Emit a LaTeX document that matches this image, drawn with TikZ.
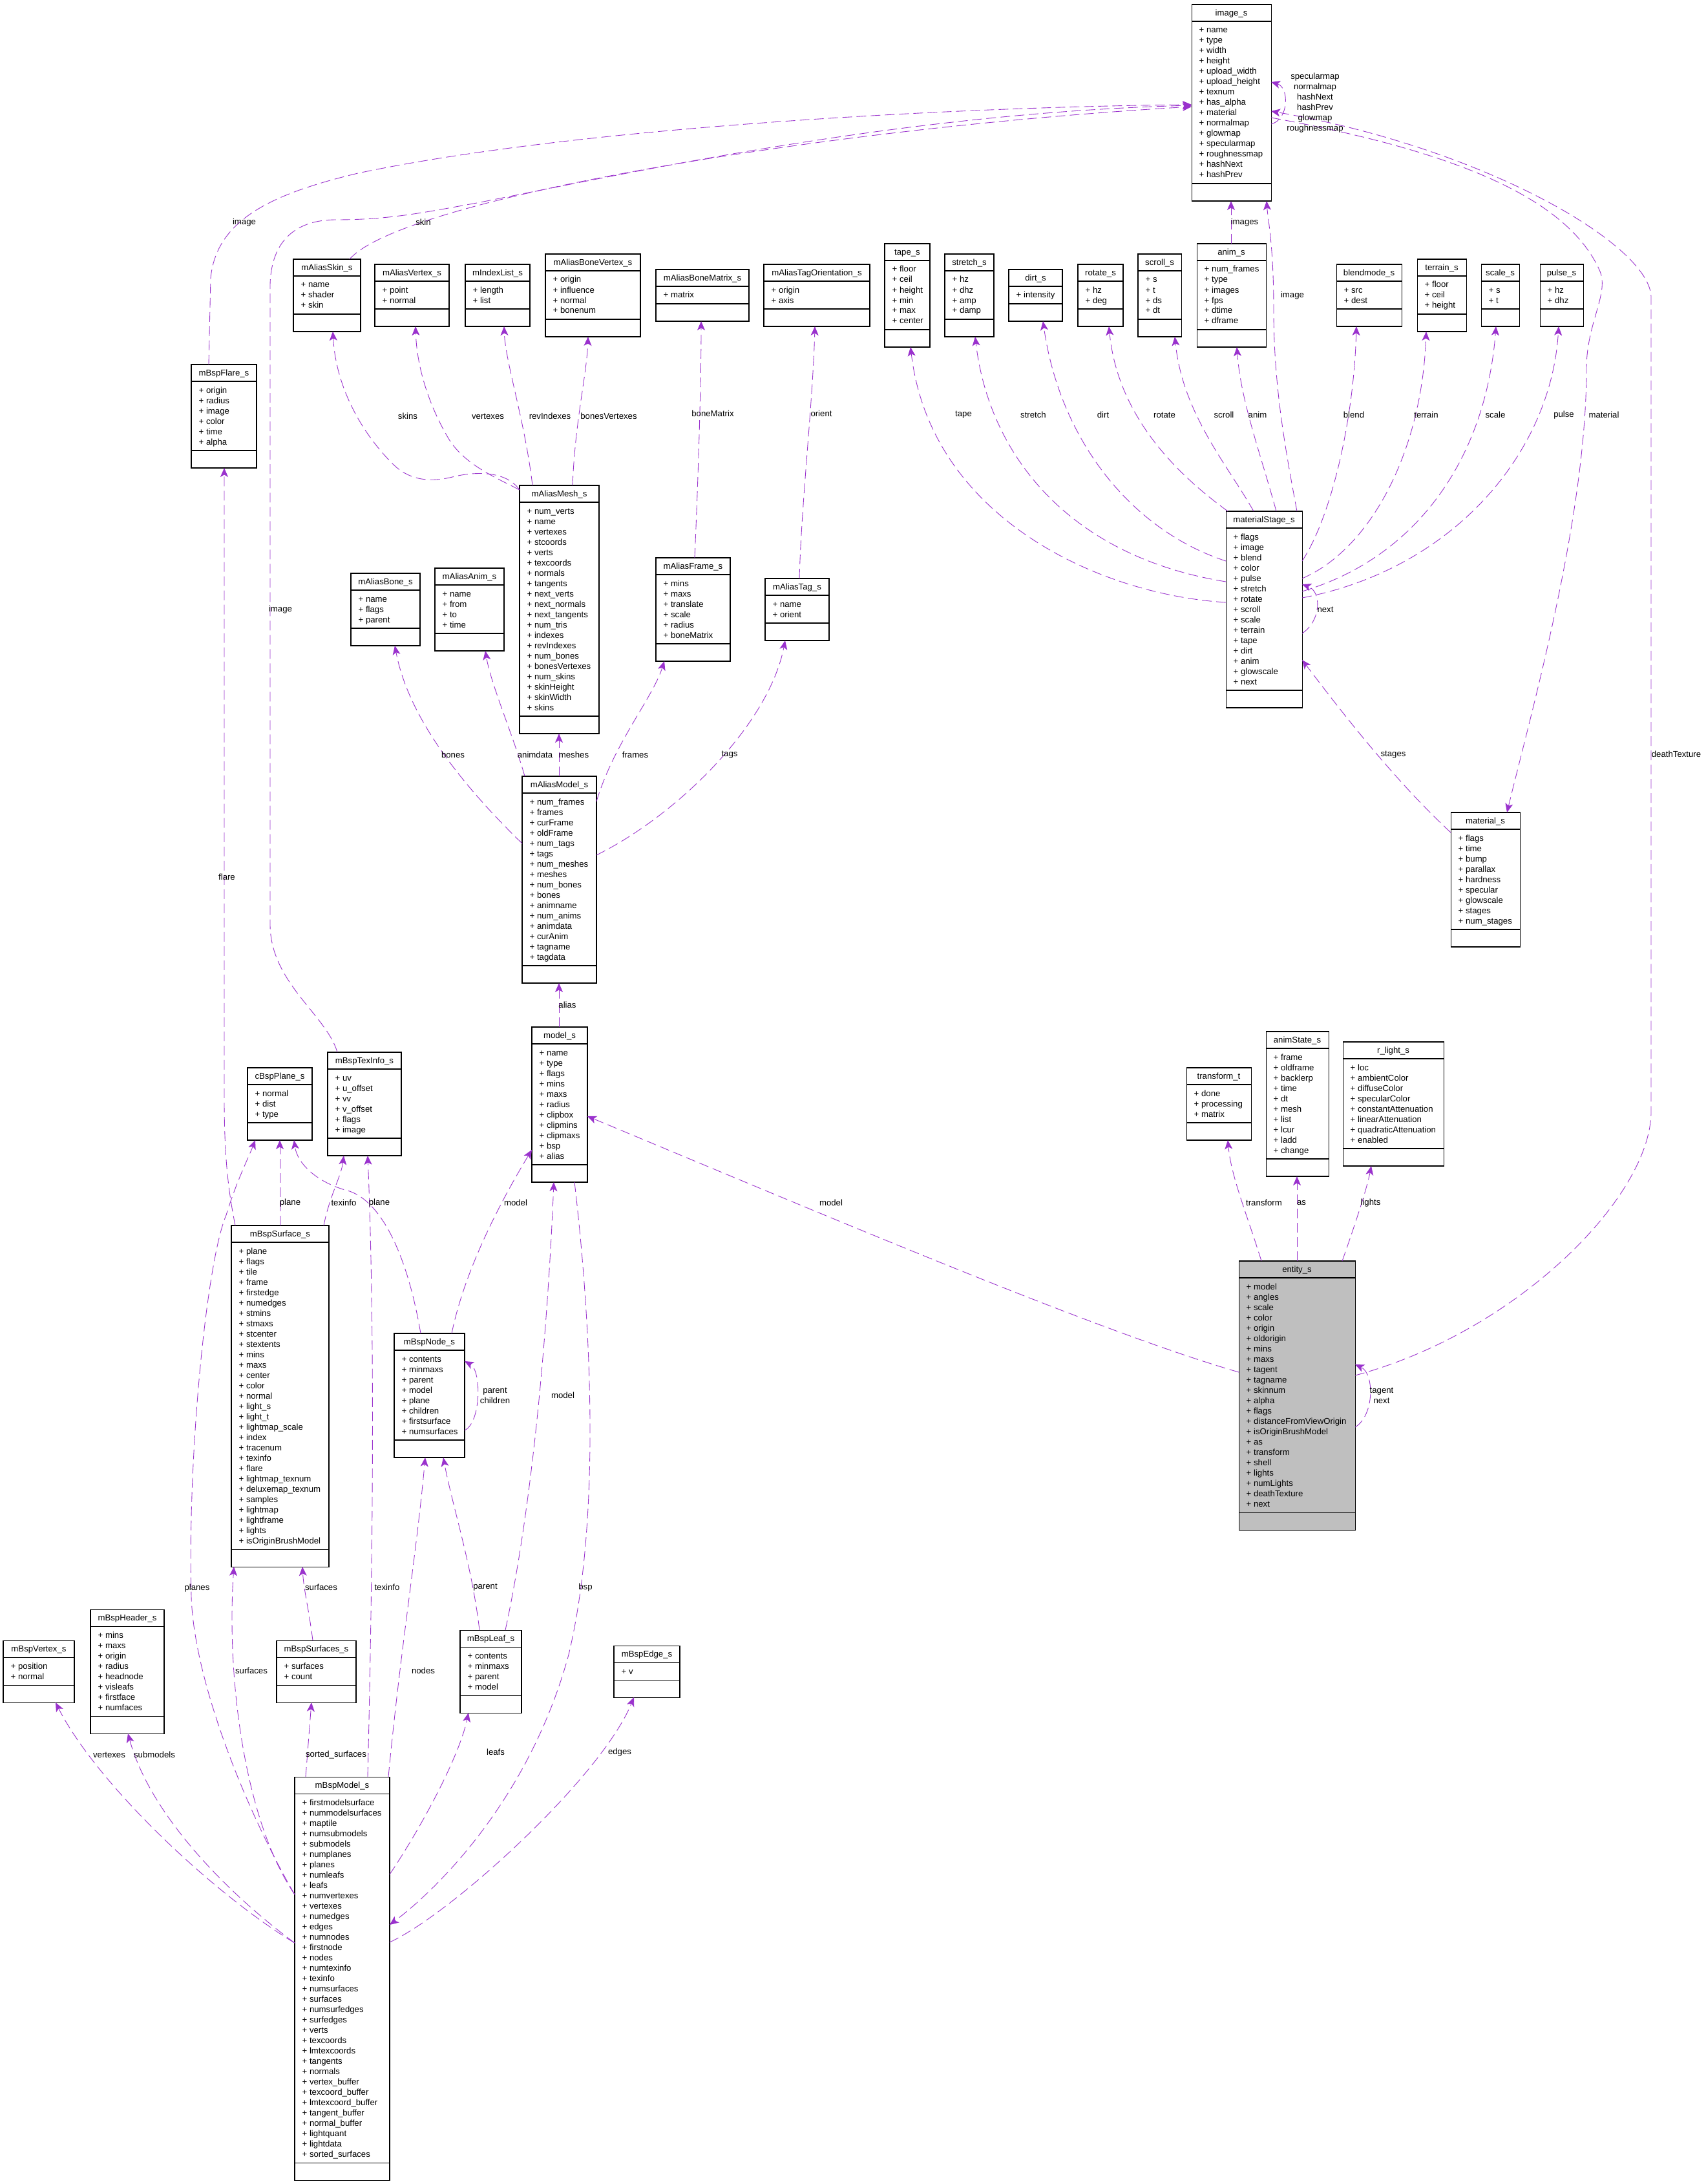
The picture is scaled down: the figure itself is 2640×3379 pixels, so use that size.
\documentclass[tikz,border=0pt]{standalone}
\usepackage{fontspec}
\setmainfont{Liberation Sans}
\usetikzlibrary{arrows.meta,calc}
\definecolor{edgecol}{RGB}{154,50,205}
\definecolor{entfill}{RGB}{191,191,191}
\newcommand\umlfont{\fontsize{3.75pt}{4.55pt}\selectfont}
\tikzset{
  clsbox/.style={draw=black, line width=0.3pt, fill=white, inner sep=0pt, outer sep=0pt},
  clsline/.style={draw=black, line width=0.3pt},
  clstitle/.style={font=\umlfont, anchor=base, inner sep=0pt},
  clstext/.style={font=\umlfont, anchor=base west, inner sep=0pt},
  lbl/.style={font=\umlfont, inner sep=0pt, align=center},
  rel/.style={draw=edgecol, line width=0.25pt, dash pattern=on 0.15cm off 0.07cm, -{Stealth[length=0.14cm,width=0.12cm,inset=0.035cm]}},
}
\newcommand\cls[7][]{%
  \xdef\clsn{0}%
  \foreach \e [count=\i] in {#7} {\xdef\clsn{\i}}%
  \pgfmathsetmacro\clsh{64+16*\clsn}%
  \node[clsbox,#1,minimum width=#5*0.01cm,minimum height=\clsh*0.01cm,anchor=north west] (#2) at (#3,#4) {};
  \draw[clsline] (#3,#4+26) -- (#3+#5,#4+26);
  \draw[clsline] (#3,#4+37+16*\clsn) -- (#3+#5,#4+37+16*\clsn);
  \node[clstitle] (#2-t) at (#3+#5/2,#4+17.5) {#6};
  \foreach \e [count=\i from 0] in {#7} {\node[clstext] (#2-\i) at (#3+11,#4+44+16*\i) {+ \e};}%
}
\begin{document}
\begin{tikzpicture}[x=0.01cm,y=-0.01cm]
\fill[white] (0,0) rectangle (2640,3379);
\useasboundingbox (0,0) rectangle (2640,3379);

% ---------------- classes ----------------
\cls{imageS}{1844}{7}{123}{image\_s}{name,type,width,height,upload\_width,upload\_height,texnum,has\_alpha,material,normalmap,glowmap,specularmap,roughnessmap,hashNext,hashPrev}
\cls{mAliasSkinS}{454}{401}{104}{mAliasSkin\_s}{name,shader,skin}
\cls{mAliasVertexS}{580}{409}{115}{mAliasVertex\_s}{point,normal}
\cls{mIndexListS}{720}{409}{100}{mIndexList\_s}{length,list}
\cls{mAliasBoneVertexS}{844}{393}{147}{mAliasBoneVertex\_s}{origin,influence,normal,bonenum}
\cls{mAliasBoneMatrixS}{1015}{417}{144}{mAliasBoneMatrix\_s}{matrix}
\cls{mAliasTagOrientationS}{1182}{409}{164}{mAliasTagOrientation\_s}{origin,axis}
\cls{tapeS}{1369}{377}{70}{tape\_s}{floor,ceil,height,min,max,center}
\cls{stretchS}{1462}{393}{76}{stretch\_s}{hz,dhz,amp,damp}
\cls{dirtS}{1561}{417}{83}{dirt\_s}{intensity}
\cls{rotateS}{1668}{409}{70}{rotate\_s}{hz,deg}
\cls{scrollS}{1761}{393}{67}{scroll\_s}{s,t,ds,dt}
\cls{animS}{1852}{377}{107}{anim\_s}{num\_frames,type,images,fps,dtime,dframe}
\cls{blendmodeS}{2068}{409}{101}{blendmode\_s}{src,dest}
\cls{terrainS}{2193}{401}{76}{terrain\_s}{floor,ceil,height}
\cls{scaleS}{2292}{409}{59}{scale\_s}{s,t}
\cls{pulseS}{2383}{409}{67}{pulse\_s}{hz,dhz}
\cls{mBspFlareS}{296}{564}{101}{mBspFlare\_s}{origin,radius,image,color,time,alpha}
\cls{mAliasMeshS}{804}{751}{123}{mAliasMesh\_s}{num\_verts,name,vertexes,stcoords,verts,texcoords,normals,tangents,next\_verts,next\_normals,next\_tangents,num\_tris,indexes,revIndexes,num\_bones,bonesVertexes,num\_skins,skinHeight,skinWidth,skins}
\cls{materialStageS}{1897}{791}{118}{materialStage\_s}{flags,image,blend,color,pulse,stretch,rotate,scroll,scale,terrain,tape,dirt,anim,glowscale,next}
\cls{mAliasBoneS}{543}{887}{107}{mAliasBone\_s}{name,flags,parent}
\cls{mAliasAnimS}{673}{879}{107}{mAliasAnim\_s}{name,from,to,time}
\cls{mAliasFrameS}{1015}{863}{115}{mAliasFrame\_s}{mins,maxs,translate,scale,radius,boneMatrix}
\cls{mAliasTagS}{1184}{895}{99}{mAliasTag\_s}{name,orient}
\cls{mAliasModelS}{808}{1201}{115}{mAliasModel\_s}{num\_frames,frames,curFrame,oldFrame,num\_tags,tags,num\_meshes,meshes,num\_bones,bones,animname,num\_anims,animdata,curAnim,tagname,tagdata}
\cls{materialS}{2245}{1257}{107}{material\_s}{flags,time,bump,parallax,hardness,specular,glowscale,stages,num\_stages}
\cls{modelS}{823}{1589}{86}{model\_s}{name,type,flags,mins,maxs,radius,clipbox,clipmins,clipmaxs,bsp,alias}
\cls{cBspPlaneS}{383}{1652}{100}{cBspPlane\_s}{normal,dist,type}
\cls{mBspTexInfoS}{507}{1628}{114}{mBspTexInfo\_s}{uv,u\_offset,vv,v\_offset,flags,image}
\cls{transformT}{1836}{1652}{100}{transform\_t}{done,processing,matrix}
\cls{animStateS}{1959}{1596}{97}{animState\_s}{frame,oldframe,backlerp,time,dt,mesh,list,lcur,ladd,change}
\cls{rLightS}{2078}{1612}{156}{r\_light\_s}{loc,ambientColor,diffuseColor,specularColor,constantAttenuation,linearAttenuation,quadraticAttenuation,enabled}
\cls{mBspSurfaceS}{358}{1896}{151}{mBspSurface\_s}{plane,flags,tile,frame,firstedge,numedges,stmins,stmaxs,stcenter,stextents,mins,maxs,center,color,normal,light\_s,light\_t,lightmap\_scale,index,tracenum,texinfo,flare,lightmap\_texnum,deluxemap\_texnum,samples,lightmap,lightframe,lights,isOriginBrushModel}
\cls{mBspNodeS}{610}{2063}{109}{mBspNode\_s}{contents,minmaxs,parent,model,plane,children,firstsurface,numsurfaces}
\cls[fill=entfill]{entityS}{1917}{1951}{180}{entity\_s}{model,angles,scale,color,origin,oldorigin,mins,maxs,tagent,tagname,skinnum,alpha,flags,distanceFromViewOrigin,isOriginBrushModel,as,transform,shell,lights,numLights,deathTexture,next}
\cls{mBspVertexS}{5}{2538}{110}{mBspVertex\_s}{position,normal}
\cls{mBspHeaderS}{140}{2490}{114}{mBspHeader\_s}{mins,maxs,origin,radius,headnode,visleafs,firstface,numfaces}
\cls{mBspSurfacesS}{428}{2538}{123}{mBspSurfaces\_s}{surfaces,count}
\cls{mBspLeafS}{712}{2522}{95}{mBspLeaf\_s}{contents,minmaxs,parent,model}
\cls{mBspEdgeS}{950}{2546}{102}{mBspEdge\_s}{v}
\cls{mBspModelS}{456}{2749}{147}{mBspModel\_s}{firstmodelsurface,nummodelsurfaces,maptile,numsubmodels,submodels,numplanes,planes,numleafs,leafs,numvertexes,vertexes,numedges,edges,numnodes,firstnode,nodes,numtexinfo,texinfo,numsurfaces,surfaces,numsurfedges,surfedges,verts,texcoords,lmtexcoords,tangents,normals,vertex\_buffer,texcoord\_buffer,lmtexcoord\_buffer,tangent\_buffer,normal\_buffer,lightquant,lightdata,sorted\_surfaces}

% ---------------- connectors to image_s ----------------
\draw[rel] ($(mBspFlareS.north west)+(27,0)$) -- (326,430) .. controls (335,340) and (420,300) .. (554,268) .. controls (900,195) and (1500,165) .. ($(imageS.north west)+(0,155)$);
\draw[rel] ($(mAliasSkinS.north west)+(87,0)$) .. controls (620,310) and (1250,200) .. ($(imageS.north west)+(0,158)$);
\draw[rel] ($(mBspTexInfoS.north west)+(15,0)$) .. controls (505,1570) and (418,1520) .. (418,1430) -- (418,440) .. controls (420,370) and (460,340) .. (520,340) .. controls (600,340) and (650,330) .. (738,314) .. controls (1000,262) and (1400,175) .. ($(imageS.north west)+(0,156)$);
\draw[rel] ($(animS.north west)+(53,0)$) -- ($(imageS.south west)+(61,0)$);
\draw[rel] ($(materialStageS.north west)+(110,0)$) .. controls (1990,700) and (1971,600) .. (1971,480) .. controls (1971,380) and (1962,340) .. ($(imageS.south west)+(116,0)$);
\draw[rel] ($(imageS.north west)+(123,185)$) .. controls (1995,185) and (1995,135) .. ($(imageS.north west)+(123,120)$);
\draw[rel] ($(imageS.north west)+(123,175)$) .. controls (2200,225) and (2420,290) .. (2476,420) .. controls (2490,455) and (2455,500) .. (2455,570) .. controls (2455,800) and (2370,1100) .. ($(materialS.north west)+(87,0)$);
\draw[rel] ($(entityS.north west)+(180,177)$) .. controls (2350,2060) and (2555,1850) .. (2555,1720) -- (2555,460) .. controls (2555,380) and (2300,230) .. ($(imageS.north west)+(123,165)$);

% ---------------- materialStage_s ----------------
\draw[rel] ($(materialStageS.north west)+(0,141)$) .. controls (1700,920) and (1440,800) .. ($(tapeS.south west)+(40,0)$);
\draw[rel] ($(materialStageS.north west)+(0,109)$) .. controls (1650,860) and (1530,700) .. ($(stretchS.south west)+(47,0)$);
\draw[rel] ($(materialStageS.north west)+(0,77)$) .. controls (1750,820) and (1640,680) .. ($(dirtS.south west)+(53,0)$);
\draw[rel] ($(materialStageS.north west)+(3,0)$) .. controls (1830,740) and (1730,650) .. ($(rotateS.south west)+(48,0)$);
\draw[rel] ($(materialStageS.north west)+(43,0)$) .. controls (1900,720) and (1830,640) .. ($(scrollS.south west)+(57,0)$);
\draw[rel] ($(materialStageS.north west)+(78,0)$) .. controls (1950,700) and (1920,620) .. ($(animS.south west)+(62,0)$);
\draw[rel] ($(materialStageS.north east)+(0,77)$) .. controls (2060,800) and (2095,650) .. ($(blendmodeS.south west)+(31,0)$);
\draw[rel] ($(materialStageS.north east)+(0,104)$) .. controls (2120,850) and (2200,700) .. ($(terrainS.south west)+(14,0)$);
\draw[rel] ($(materialStageS.north east)+(0,124)$) .. controls (2200,860) and (2300,700) .. ($(scaleS.south west)+(23,0)$);
\draw[rel] ($(materialStageS.north east)+(0,134)$) .. controls (2250,880) and (2400,700) .. ($(pulseS.south west)+(29,0)$);
\draw[rel] ($(materialStageS.north east)+(0,189)$) .. controls (2045,960) and (2045,915) .. ($(materialStageS.north east)+(0,113)$);
\draw[rel] ($(materialS.north west)+(0,31)$) .. controls (2150,1200) and (2060,1080) .. ($(materialStageS.north east)+(0,230)$);

% ---------------- mAliasMesh_s ----------------
\draw[rel] ($(mAliasMeshS.north west)+(0,7)$) .. controls (785,730) and (740,728) .. (700,738) .. controls (660,748) and (630,740) .. (608,718) .. controls (560,670) and (520,600) .. ($(mAliasSkinS.south west)+(61,0)$);
\draw[rel] ($(mAliasMeshS.north west)+(0,7)$) .. controls (770,740) and (720,720) .. (695,680) .. controls (665,630) and (645,570) .. ($(mAliasVertexS.south west)+(63,0)$);
\draw[rel] ($(mAliasMeshS.north west)+(20,0)$) .. controls (812,650) and (782,560) .. ($(mIndexListS.south west)+(60,0)$);
\draw[rel] ($(mAliasMeshS.north west)+(82,0)$) .. controls (890,650) and (908,580) .. ($(mAliasBoneVertexS.south west)+(66,0)$);
\draw[rel] ($(mAliasFrameS.north west)+(60,0)$) .. controls (1080,750) and (1085,600) .. ($(mAliasBoneMatrixS.south west)+(70,0)$);
\draw[rel] ($(mAliasTagS.north west)+(53,0)$) .. controls (1240,780) and (1258,620) .. ($(mAliasTagOrientationS.south west)+(79,0)$);

% ---------------- mAliasModel_s ----------------
\draw[rel] ($(mAliasModelS.north west)+(0,104)$) .. controls (700,1200) and (630,1100) .. ($(mAliasBoneS.south west)+(68,0)$);
\draw[rel] ($(mAliasModelS.north west)+(4,0)$) .. controls (795,1140) and (760,1060) .. ($(mAliasAnimS.south west)+(78,0)$);
\draw[rel] ($(mAliasModelS.north west)+(57,0)$) -- ($(mAliasMeshS.south west)+(61,0)$);
\draw[rel] ($(mAliasModelS.north east)+(0,39)$) .. controls (950,1150) and (1010,1080) .. ($(mAliasFrameS.south west)+(13,0)$);
\draw[rel] ($(mAliasModelS.north east)+(0,122)$) .. controls (1050,1260) and (1190,1120) .. ($(mAliasTagS.south west)+(31,0)$);
\draw[rel] ($(modelS.north west)+(42,0)$) -- ($(mAliasModelS.south west)+(57,0)$);

% ---------------- entity_s ----------------
\draw[rel] ($(entityS.north west)+(35,0)$) .. controls (1930,1880) and (1905,1820) .. ($(transformT.south west)+(64,0)$);
\draw[rel] ($(entityS.north west)+(90,0)$) -- ($(animStateS.south west)+(48,0)$);
\draw[rel] ($(entityS.north west)+(160,0)$) .. controls (2095,1900) and (2115,1840) .. ($(rLightS.south west)+(44,0)$);
\draw[rel] ($(entityS.north east)+(0,257)$) .. controls (2127,2190) and (2127,2125) .. ($(entityS.north east)+(0,160)$);
\draw[rel] ($(entityS.north west)+(0,172)$) .. controls (1700,2060) and (1300,1890) .. ($(modelS.north east)+(0,138)$);

% ---------------- model_s / bsp ----------------
\draw[rel] ($(mBspNodeS.north west)+(89,0)$) .. controls (720,1960) and (780,1850) .. ($(modelS.north west)+(0,190)$);
\draw[rel] ($(mBspLeafS.north west)+(70,0)$) .. controls (830,2300) and (850,2000) .. ($(modelS.south west)+(34,0)$);
\draw[rel] ($(modelS.south west)+(66,0)$) .. controls (915,2050) and (930,2350) .. (880,2560) .. controls (820,2780) and (680,2920) .. ($(mBspModelS.north east)+(0,229)$);
\draw[rel] ($(mBspModelS.north east)+(0,151)$) .. controls (650,2830) and (710,2720) .. ($(mBspLeafS.south west)+(13,0)$);
\draw[rel] ($(mBspModelS.north east)+(0,256)$) .. controls (700,2960) and (930,2750) .. ($(mBspEdgeS.south west)+(31,0)$);
\draw[rel] ($(mBspSurfaceS.north west)+(75,0)$) -- ($(cBspPlaneS.south west)+(50,0)$);
\draw[rel] ($(mBspSurfaceS.north west)+(143,0)$) .. controls (510,1850) and (528,1820) .. ($(mBspTexInfoS.south west)+(25,0)$);
\draw[rel] ($(mBspNodeS.north west)+(41,0)$) .. controls (630,1940) and (590,1860) .. (541,1843) .. controls (490,1830) and (460,1800) .. ($(cBspPlaneS.south west)+(72,0)$);
\draw[rel] ($(mBspModelS.north west)+(0,182)$) .. controls (380,2800) and (300,2600) .. (296,2470) .. controls (290,2250) and (320,1950) .. (350,1880) .. controls (365,1830) and (385,1790) .. ($(cBspPlaneS.south west)+(12,0)$);
\draw[rel] ($(mBspModelS.north west)+(0,182)$) .. controls (380,2820) and (350,2600) .. ($(mBspSurfaceS.south west)+(4,0)$);
\draw[rel] ($(mBspSurfacesS.north west)+(56,0)$) .. controls (478,2490) and (470,2460) .. ($(mBspSurfaceS.south west)+(110,0)$);
\draw[rel] ($(mBspModelS.north west)+(17,0)$) -- ($(mBspSurfacesS.south west)+(54,0)$);
\draw[rel] ($(mBspModelS.north west)+(113,0)$) .. controls (575,2500) and (582,2100) .. ($(mBspTexInfoS.south west)+(62,0)$);
\draw[rel] ($(mBspModelS.north west)+(145,0)$) .. controls (620,2550) and (645,2400) .. ($(mBspNodeS.south west)+(48,0)$);
\draw[rel] ($(mBspLeafS.north west)+(30,0)$) .. controls (730,2420) and (700,2330) .. ($(mBspNodeS.south west)+(76,0)$);
\draw[rel] ($(mBspNodeS.north east)+(0,150)$) .. controls (745,2200) and (745,2120) .. ($(mBspNodeS.north east)+(0,43)$);
\draw[rel] ($(mBspSurfaceS.north west)+(6,0)$) .. controls (355,1850) and (347,1800) .. (347,1700) -- ($(mBspFlareS.south west)+(51,0)$);
\draw[rel] ($(mBspModelS.north west)+(0,257)$) .. controls (330,2930) and (150,2760) .. ($(mBspVertexS.south west)+(81,0)$);
\draw[rel] ($(mBspModelS.north west)+(0,257)$) .. controls (340,2920) and (230,2800) .. ($(mBspHeaderS.south west)+(58,0)$);

% ---------------- labels ----------------
\node[lbl] (l1) at (378,344) {image};
\node[lbl] (l2) at (655,344) {skin};
\node[lbl] (l3) at (1926,344) {images};
\node[lbl] (l4) at (2000,457) {image};
\node[lbl] (l5) at (2035,159) {specularmap\\normalmap\\hashNext\\hashPrev\\glowmap\\roughnessmap};
\node[lbl] (l6) at (2482,642) {material};
\node[lbl] (l7) at (2594,1167) {deathTexture};
\node[lbl] (l8) at (1491,642) {tape};
\node[lbl] (l9) at (1599,642) {stretch};
\node[lbl] (l10) at (1707,642) {dirt};
\node[lbl] (l11) at (1802,642) {rotate};
\node[lbl] (l12) at (1894,642) {scroll};
\node[lbl] (l13) at (1946,642) {anim};
\node[lbl] (l14) at (2095,642) {blend};
\node[lbl] (l15) at (2207,642) {terrain};
\node[lbl] (l16) at (2314,642) {scale};
\node[lbl] (l17) at (2420,642) {pulse};
\node[lbl] (l18) at (2051,943) {next};
\node[lbl] (l19) at (2156,1168) {stages};
\node[lbl] (l20) at (631,644) {skins};
\node[lbl] (l21) at (755,644) {vertexes};
\node[lbl] (l22) at (851,644) {revIndexes};
\node[lbl] (l23) at (942,644) {bonesVertexes};
\node[lbl] (l24) at (1103,640) {boneMatrix};
\node[lbl] (l25) at (1271,640) {orient};
\node[lbl] (l26) at (434,943) {image};
\node[lbl] (l27) at (701,1168) {bones};
\node[lbl] (l28) at (828,1168) {animdata};
\node[lbl] (l29) at (888,1168) {meshes};
\node[lbl] (l30) at (983,1168) {frames};
\node[lbl] (l31) at (1129,1168) {tags};
\node[lbl] (l32) at (878,1555) {alias};
\node[lbl] (l33) at (1956,1861) {transform};
\node[lbl] (l34) at (2014,1861) {as};
\node[lbl] (l35) at (2121,1861) {lights};
\node[lbl] (l36) at (2138,2159) {tagent\\next};
\node[lbl] (l37) at (1286,1861) {model};
\node[lbl] (l38) at (798,1861) {model};
\node[lbl] (l39) at (871,2159) {model};
\node[lbl] (l40) at (449,1861) {plane};
\node[lbl] (l41) at (532,1861) {texinfo};
\node[lbl] (l42) at (587,1861) {plane};
\node[lbl] (l43) at (351,1357) {flare};
\node[lbl] (l44) at (766,2159) {parent\\children};
\node[lbl] (l45) at (497,2456) {surfaces};
\node[lbl] (l46) at (599,2456) {texinfo};
\node[lbl] (l47) at (751,2456) {parent};
\node[lbl] (l48) at (906,2456) {bsp};
\node[lbl] (l49) at (305,2457) {planes};
\node[lbl] (l50) at (389,2585) {surfaces};
\node[lbl] (l51) at (655,2585) {nodes};
\node[lbl] (l52) at (169,2715) {vertexes};
\node[lbl] (l53) at (239,2715) {submodels};
\node[lbl] (l54) at (520,2715) {sorted\_surfaces};
\node[lbl] (l55) at (767,2711) {leafs};
\node[lbl] (l56) at (959,2711) {edges};
\end{tikzpicture}
\end{document}
